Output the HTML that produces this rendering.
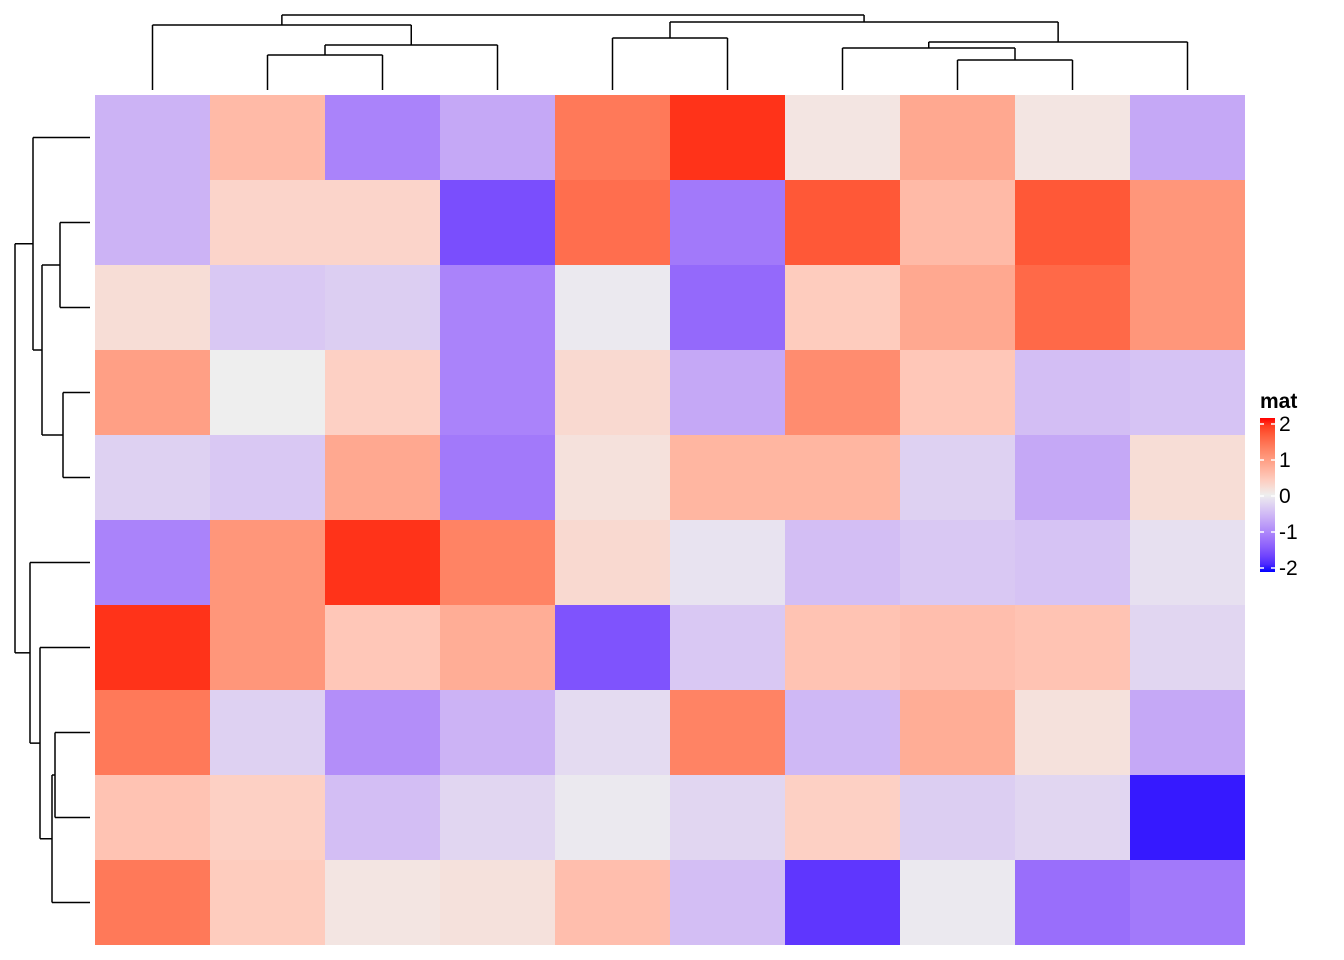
<!DOCTYPE html>
<html><head><meta charset="utf-8">
<style>
html,body{margin:0;padding:0;background:#fff;}
svg{display:block;font-family:"Liberation Sans",Arial,sans-serif;}
</style></head>
<body>
<svg id="chart" width="1344" height="960" xmlns="http://www.w3.org/2000/svg">
<g id="cells"></g>
<g id="coldend" stroke="#000" stroke-width="1.5" fill="none"></g>
<g id="rowdend" stroke="#000" stroke-width="1.5" fill="none"></g>
<g id="legend">
<text x="1260" y="408" font-size="21" font-weight="bold">mat</text>
</g>
</svg>
<script>
const row1 = [-0.55, 0.6, -1.0, -0.65, 1.3, 1.85, 0.1, 0.8, 0.1, -0.65];
const row2 = [-0.55, 0.3, 0.3, -1.5, 1.4, -1.1, 1.6, 0.6, 1.6, 1.0];
const row3 = [0.2, -0.35, -0.3, -1.0, -0.05, -1.25, 0.4, 0.8, 1.45, 1.0];
const row4 = [0.9, 0.0, 0.35, -1.0, 0.25, -0.65, 1.1, 0.45, -0.45, -0.4];
const row5 = [-0.27, -0.35, 0.8, -1.1, 0.15, 0.65, 0.65, -0.27, -0.65, 0.2];
const row6 = [-1.0, 1.0, 1.85, 1.2, 0.25, -0.1, -0.45, -0.35, -0.4, -0.13];
const row7 = [1.85, 1.0, 0.45, 0.75, -1.45, -0.35, 0.5, 0.55, 0.5, -0.22];
const row8 = [1.3, -0.27, -0.9, -0.55, -0.18, 1.2, -0.5, 0.75, 0.15, -0.65];
const row9 = [0.5, 0.35, -0.45, -0.22, -0.05, -0.22, 0.35, -0.3, -0.22, -1.9];
const row10 = [1.3, 0.4, 0.1, 0.15, 0.55, -0.45, -1.7, -0.05, -1.2, -1.1];
const rows = [row1,row2,row3,row4,row5,row6,row7,row8,row9,row10];
const legendTicks = [2, 1, 0, -1, -2];

const NS = "http://www.w3.org/2000/svg";
const X0=95, Y0=95, CW=115, RH=85;
function xCell(j){return X0+j*CW;}
function yCell(i){return Y0+i*RH;}

function toLin(c){c/=255;return c<=0.04045?c/12.92:Math.pow((c+0.055)/1.055,2.4);}
function fromLin(c){c=c<=0.0031308?12.92*c:1.055*Math.pow(c,1/2.4)-0.055;return Math.max(0,Math.min(255,Math.round(c*255)));}
function rgb2lab(r,g,b){r=toLin(r);g=toLin(g);b=toLin(b);
 let x=(r*0.4124+g*0.3576+b*0.1805)/0.95047,y=r*0.2126+g*0.7152+b*0.0722,z=(r*0.0193+g*0.1192+b*0.9505)/1.08883;
 const f=t=>t>0.008856?Math.cbrt(t):7.787*t+16/116;x=f(x);y=f(y);z=f(z);
 return [116*y-16,500*(x-y),200*(y-z)];}
function lab2rgb(L,a,bb){let y=(L+16)/116,x=a/500+y,z=y-bb/200;
 const fi=t=>t*t*t>0.008856?t*t*t:(t-16/116)/7.787;x=fi(x)*0.95047;y=fi(y);z=fi(z)*1.08883;
 const r=x*3.2406+y*-1.5372+z*-0.4986,g=x*-0.9689+y*1.8758+z*0.0415,b=x*0.0557+y*-0.2040+z*1.0570;
 return `rgb(${fromLin(r)},${fromLin(g)},${fromLin(b)})`;}
const cBlue=rgb2lab(0,0,255), cMid=rgb2lab(238,238,238), cRed=rgb2lab(255,0,0);
function color(v){v=Math.max(-2,Math.min(2,v));let a,b,t;
 if(v<0){a=cMid;b=cBlue;t=-v/2;}else{a=cMid;b=cRed;t=v/2;}
 return lab2rgb(a[0]+(b[0]-a[0])*t,a[1]+(b[1]-a[1])*t,a[2]+(b[2]-a[2])*t);}

const cells=document.getElementById('cells');
rows.forEach((r,i)=>r.forEach((v,j)=>{
 const el=document.createElementNS(NS,'rect');
 el.setAttribute('x',xCell(j));el.setAttribute('y',yCell(i));
 el.setAttribute('width',CW);el.setAttribute('height',RH);
 el.setAttribute('fill',color(v));
 
 
 cells.appendChild(el);
}));

function line(g,x1,y1,x2,y2){const l=document.createElementNS(NS,'line');
 l.setAttribute('x1',x1);l.setAttribute('y1',y1);l.setAttribute('x2',x2);l.setAttribute('y2',y2);
 
 
 g.appendChild(l);}
const cd=document.getElementById('coldend');
function cjoin(a,ay,b,by,h){line(cd,a,ay,a,h);line(cd,b,by,b,h);line(cd,a,h,b,h);return (a+b)/2;}
const lc=j=>X0+CW*j+CW/2, LB=90;
let c1=cjoin(lc(1),LB,lc(2),LB,55);
let c2=cjoin(c1,55,lc(3),LB,45);
let c3=cjoin(lc(0),LB,c2,45,25);
let c4=cjoin(lc(4),LB,lc(5),LB,38);
let c5=cjoin(lc(7),LB,lc(8),LB,60);
let c6=cjoin(lc(6),LB,c5,60,48);
let c7=cjoin(c6,48,lc(9),LB,42);
let c8=cjoin(c4,38,c7,42,22);
cjoin(c3,25,c8,22,15);
const rd=document.getElementById('rowdend');
function rjoin(a,ax,b,bx,h){line(rd,ax,a,h,a);line(rd,bx,b,h,b);line(rd,h,a,h,b);return (a+b)/2;}
const lr=i=>Y0+RH*i+RH/2, LR=90;
let r1=rjoin(lr(1),LR,lr(2),LR,60);
let r2=rjoin(lr(3),LR,lr(4),LR,63);
let r3=rjoin(r1,60,r2,63,42);
let r4=rjoin(lr(0),LR,r3,42,33);
let r5=rjoin(lr(7),LR,lr(8),LR,55);
let r6=rjoin(r5,55,lr(9),LR,52);
let r7=rjoin(lr(6),LR,r6,52,40);
let r8=rjoin(lr(5),LR,r7,40,30);
rjoin(r4,33,r8,30,15);

const lg=document.getElementById('legend');
const LT=418,LBt=572,LX=1260,LW=15;
const defs=document.createElementNS(NS,'defs');
const grad=document.createElementNS(NS,'linearGradient');
grad.id='lgrad';grad.setAttribute('x1','0');grad.setAttribute('y1','0');grad.setAttribute('x2','0');grad.setAttribute('y2','1');
for(let k=0;k<=20;k++){const v=2-4*k/20;const s=document.createElementNS(NS,'stop');
 s.setAttribute('offset',(k/20));s.setAttribute('stop-color',color(v));grad.appendChild(s);}
defs.appendChild(grad);lg.appendChild(defs);
const bar=document.createElementNS(NS,'rect');
bar.setAttribute('x',LX);bar.setAttribute('y',LT);bar.setAttribute('width',LW);bar.setAttribute('height',LBt-LT);
bar.setAttribute('fill','url(#lgrad)');


lg.appendChild(bar);
const ly=v=>424+(2-v)*36;
legendTicks.forEach(v=>{
 const y=ly(v);
 [[LX,LX+4],[LX+LW-4,LX+LW]].forEach(p=>{const t=document.createElementNS(NS,'line');
  t.setAttribute('x1',p[0]);t.setAttribute('x2',p[1]);t.setAttribute('y1',y);t.setAttribute('y2',y);
  t.setAttribute('stroke','#fff');t.setAttribute('stroke-width','1.5');
  
  
  lg.appendChild(t);});
 const tx=document.createElementNS(NS,'text');
 tx.setAttribute('x',LX+LW+4);tx.setAttribute('y',y+7);tx.setAttribute('font-size','21');
 tx.textContent=v;
 
 
 lg.appendChild(tx);
});
</script>
</body></html>
